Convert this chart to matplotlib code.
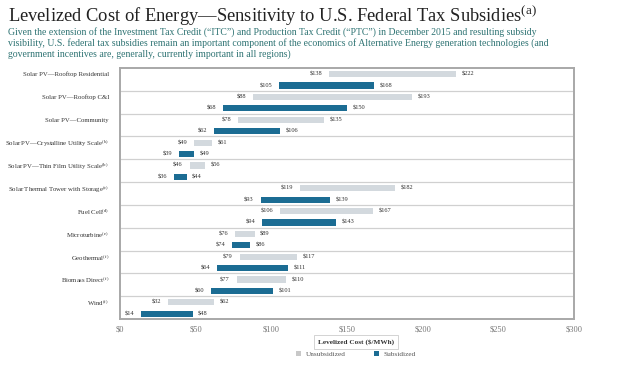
import matplotlib
matplotlib.use("Agg")
import matplotlib.pyplot as plt
from matplotlib.patches import Patch

plt.rcParams['font.family'] = ['Liberation Serif', 'DejaVu Serif']
plt.rcParams['mathtext.fontset'] = 'custom'
plt.rcParams['mathtext.rm'] = 'Liberation Serif'
plt.rcParams['mathtext.it'] = 'Liberation Serif:italic'

categories = [
    "Solar PV—Rooftop Residential",
    "Solar PV—Rooftop C&I",
    "Solar PV—Community",
    "Solar PV—Crystalline Utility Scale",
    "Solar PV—Thin Film Utility Scale",
    "Solar Thermal Tower with Storage",
    "Fuel Cell",
    "Microturbine",
    "Geothermal",
    "Biomass Direct",
    "Wind",
]
footnotes = ["", "", "", "(b)", "(b)", "(c)", "(d)", "(e)", "(f)", "(f)", "(f)"]
unsub_low = [138, 88, 78, 49, 46, 119, 106, 76, 79, 77, 32]
unsub_high = [222, 193, 135, 61, 56, 182, 167, 89, 117, 110, 62]
sub_low = [105, 68, 62, 39, 36, 93, 94, 74, 64, 60, 14]
sub_high = [168, 150, 106, 49, 44, 139, 143, 86, 111, 101, 48]
xticks = [0, 50, 100, 150, 200, 250, 300]
xticklabels = ["$0", "$50", "$100", "$150", "$200", "$250", "$300"]

GRAY = "#d3d9de"
BLUE = "#1b6c93"
TXT = "#333333"

fig = plt.figure(figsize=(6.37, 3.65), dpi=100)
fig.patch.set_facecolor("white")
ax = fig.add_axes([120/637, 1-319/365, (574-120)/637, (319-68)/365])

n = len(categories)
y_un = [i + 0.27 for i in range(n)]
y_su = [i + 0.77 for i in range(n)]
h = 0.27

ax.barh(y_un, [hi - lo for lo, hi in zip(unsub_low, unsub_high)], left=unsub_low,
        height=h, color=GRAY, edgecolor="none")
ax.barh(y_su, [hi - lo for lo, hi in zip(sub_low, sub_high)], left=sub_low,
        height=h, color=BLUE, edgecolor="none")

for i in range(n):
    for y, lo, hi in ((y_un[i], unsub_low[i], unsub_high[i]), (y_su[i], sub_low[i], sub_high[i])):
        ax.annotate(r"\$%d" % lo, (lo, y), xytext=(-5, 0), textcoords="offset points",
                    ha="right", va="center", fontsize=4.6, color=TXT)
        ax.annotate(r"\$%d" % hi, (hi, y), xytext=(4, 0), textcoords="offset points",
                    ha="left", va="center", fontsize=4.6, color=TXT)

for k in range(1, n):
    ax.axhline(k, color="#d0d0d0", lw=0.9, zorder=0)

ax.set_xlim(0, 300)
ax.set_ylim(n, 0)
ax.set_yticks(y_un)
ax.set_yticklabels([c + (r"$^{\mathrm{%s}}$" % f if f else "") for c, f in zip(categories, footnotes)],
                   fontsize=4.9, color=TXT)
ax.set_xticks(xticks)
ax.set_xticklabels(xticklabels, fontsize=6, color="#777777")
ax.tick_params(axis="x", length=0, pad=5)
ax.tick_params(axis="y", length=0, pad=8)
for s in ax.spines.values():
    s.set_color("#a8a8a8")
    s.set_linewidth(1.4)

fig.text(8/637, 1-16/365, "Levelized Cost of Energy—Sensitivity to U.S. Federal Tax Subsidies$^{\\mathrm{(a)}}$",
         fontsize=13.3, color="#222222", ha="left", va="center")
sub = ("Given the extension of the Investment Tax Credit (“ITC”) and Production Tax Credit (“PTC”) in December 2015 and resulting subsidy\n"
       "visibility, U.S. federal tax subsidies remain an important component of the economics of Alternative Energy generation technologies (and\n"
       "government incentives are, generally, currently important in all regions)")
fig.text(8/637, 1-43/365, sub, fontsize=7.0, color="#2e7373", ha="left", va="center", linespacing=1.2)

fig.text(356/637, 1-342/365, "Levelized Cost ($/MWh)", fontsize=5.2, fontweight="bold", color=TXT,
         ha="center", va="center",
         bbox=dict(boxstyle="square,pad=0.5", facecolor="white", edgecolor="#cccccc", lw=0.6))

handles = [Patch(facecolor="#c8c8c8", label="Unsubsidized"), Patch(facecolor=BLUE, label="Subsidized")]
fig.legend(handles=handles, loc="center", bbox_to_anchor=(356/637, 1-354/365), ncol=2, frameon=False,
           fontsize=5.2, handlelength=0.7, handleheight=0.7, columnspacing=4, handletextpad=0.6,
           labelcolor="#555555")

fig.savefig("out.png", dpi=100, facecolor="white")
